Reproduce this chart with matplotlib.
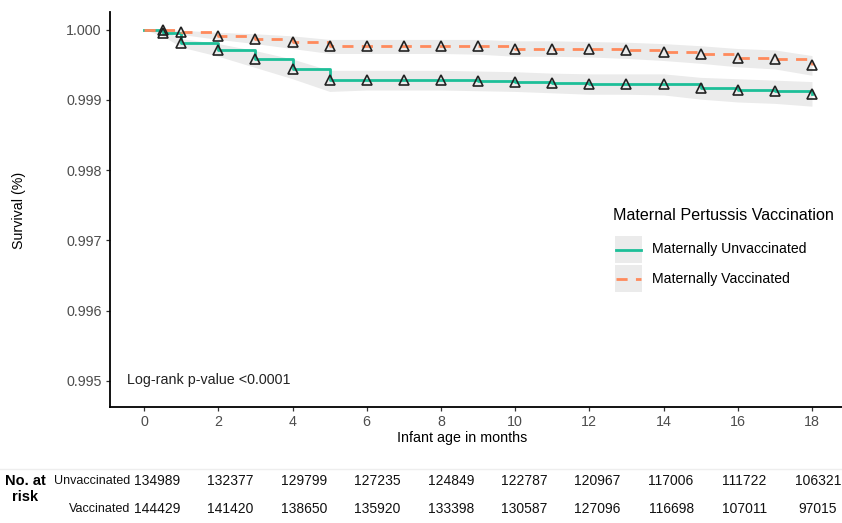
import matplotlib
matplotlib.use("Agg")
import matplotlib.pyplot as plt
from matplotlib.patches import Rectangle
from matplotlib.lines import Line2D

plt.rcParams['font.family'] = ['Liberation Sans', 'DejaVu Sans']

# ---- data ----
months = [0, 0.5, 1, 2, 3, 4, 5, 6, 7, 8, 9, 10, 11, 12, 13, 14, 15, 16, 17, 18]
surv_unvacc = [1.0, 0.99995, 0.99981, 0.99971, 0.99958, 0.99944, 0.99928, 0.99928, 0.99928, 0.99928,
               0.99927, 0.99926, 0.99924, 0.99923, 0.99923, 0.99923, 0.99917, 0.99914, 0.99912, 0.99909]
lo_unvacc = [1.0, 0.99991, 0.99975, 0.99962, 0.99946, 0.99930, 0.99912, 0.99914, 0.99914, 0.99914,
             0.99913, 0.99912, 0.99910, 0.99908, 0.99908, 0.99907, 0.99901, 0.99897, 0.99895, 0.99891]
hi_unvacc = [1.0, 0.99999, 0.99987, 0.99980, 0.99970, 0.99958, 0.99942, 0.99942, 0.99942, 0.99942,
             0.99941, 0.99940, 0.99938, 0.99937, 0.99937, 0.99937, 0.99932, 0.99930, 0.99928, 0.99926]
surv_vacc = [1.0, 1.0, 0.99996, 0.99991, 0.99987, 0.99982, 0.99976, 0.99976, 0.99976, 0.99976,
             0.99976, 0.99973, 0.99973, 0.99972, 0.99971, 0.99968, 0.99965, 0.99960, 0.99958, 0.99950]
lo_vacc = [1.0, 0.99998, 0.99993, 0.99986, 0.99980, 0.99973, 0.99966, 0.99966, 0.99966, 0.99966,
           0.99965, 0.99962, 0.99962, 0.99961, 0.99959, 0.99956, 0.99952, 0.99947, 0.99944, 0.99935]
hi_vacc = [1.0, 1.0, 0.99999, 0.99996, 0.99994, 0.99991, 0.99986, 0.99986, 0.99986, 0.99986,
           0.99986, 0.99984, 0.99984, 0.99983, 0.99982, 0.99980, 0.99977, 0.99973, 0.99971, 0.99963]
marker_months = months[1:]

risk_months = [0, 2, 4, 6, 8, 10, 12, 14, 16, 18]
risk_unvacc = [134989, 132377, 129799, 127235, 124849, 122787, 120967, 117006, 111722, 106321]
risk_vacc = [144429, 141420, 138650, 135920, 133398, 130587, 127096, 116698, 107011, 97015]

xticks = [0, 2, 4, 6, 8, 10, 12, 14, 16, 18]
yticks = [0.995, 0.996, 0.997, 0.998, 0.999, 1.000]

GREEN = '#1dbf98'
ORANGE = '#ff8a5c'
BAND = '#ebebeb'

W, H = 842, 523
fig = plt.figure(figsize=(W / 100, H / 100), dpi=100)

def fx(px):
    return px / W

def fy(py):
    return 1 - py / H

# main axes
left, right, top, bottom = 110, 842, 12, 407
ax = fig.add_axes([fx(left), fy(bottom), fx(right - left), (bottom - top) / H])
ax.set_xlim(-0.92, 18.81)
ax.set_ylim(0.99463, 1.00025)

ax.fill_between(months, lo_unvacc, hi_unvacc, color=BAND, lw=0, zorder=1)
ax.fill_between(months, lo_vacc, hi_vacc, color=BAND, lw=0, zorder=1)

ax.step(months, surv_unvacc, where='post', color=GREEN, lw=2.0, zorder=3)
ax.step(months, surv_vacc, where='post', color=ORANGE, lw=2.0, dashes=(4, 3), zorder=3)

ax.plot(marker_months, surv_unvacc[1:], ls='none', marker='^', ms=7.8, mfc='none',
        mec='#222222', mew=1.2, zorder=4)
ax.plot(marker_months, surv_vacc[1:], ls='none', marker='^', ms=7.8, mfc='none',
        mec='#222222', mew=1.2, zorder=4)

for s in ['top', 'right']:
    ax.spines[s].set_visible(False)
for s in ['left', 'bottom']:
    ax.spines[s].set_linewidth(1.3)
    ax.spines[s].set_color('black')

ax.set_xticks(xticks)
ax.set_xticklabels([str(v) for v in xticks])
ax.set_yticks(yticks)
ax.set_yticklabels([f"{v:.3f}" for v in yticks])
ax.tick_params(axis='both', length=3, width=0.9, color='#333333', labelcolor='#4d4d4d',
               labelsize=10.3, pad=3)

fig.text(fx(462), fy(438), 'Infant age in months', fontsize=10.3, color='black',
         ha='center', va='center')
fig.text(fx(19), fy(210), 'Survival (%)', fontsize=10.3, color='black',
         ha='center', va='center', rotation=90)

fig.text(fx(127), fy(380), 'Log-rank p-value <0.0001', fontsize=10.3,
         color='#222222', ha='left', va='center')

# legend (manual, ggplot-like)
fig.text(fx(613), fy(216), 'Maternal Pertussis Vaccination', fontsize=11.6, ha='left', va='center')
for i, (col, dash, lab) in enumerate([(GREEN, None, 'Maternally Unvaccinated'),
                                      (ORANGE, (4, 3), 'Maternally Vaccinated')]):
    y0 = 236 + i * 29
    fig.patches.append(Rectangle((fx(615), fy(y0 + 27)), fx(27), 27 / H, transform=fig.transFigure,
                                 facecolor=BAND, edgecolor='none'))
    ln = Line2D([fx(616), fx(641)], [fy(y0 + 13.5)] * 2, transform=fig.transFigure, color=col, lw=2.0)
    if dash:
        ln.set_dashes(dash)
    fig.lines.append(ln)
    fig.text(fx(652), fy(y0 + 13.5), lab, fontsize=10.1, ha='left', va='center')

# separator line above risk table
fig.lines.append(Line2D([0, 1], [fy(469)] * 2, transform=fig.transFigure, color='#eeeeee', lw=1))

# risk table
tleft = 157 - 0.9 * 36.72
tax = fig.add_axes([fx(tleft), fy(520), fx(19.8 * 36.72), 55 / H])
tax.set_xlim(-0.9, 18.9)
tax.set_ylim(0, 1)
tax.axis('off')
for m, a, b in zip(risk_months, risk_unvacc, risk_vacc):
    tax.text(m, (520 - 481) / 55, str(a), ha='center', va='center', fontsize=10, color='#111111', clip_on=False)
    tax.text(m, (520 - 509) / 55, str(b), ha='center', va='center', fontsize=10, color='#111111', clip_on=False)

fig.text(fx(130), fy(481), 'Unvaccinated', ha='right', va='center', fontsize=9, color='#111111')
fig.text(fx(130), fy(509), 'Vaccinated', ha='right', va='center', fontsize=9, color='#111111')
fig.text(fx(25), fy(481), 'No. at', ha='center', va='center', fontsize=10.5, fontweight='bold')
fig.text(fx(25), fy(497), 'risk', ha='center', va='center', fontsize=10.5, fontweight='bold')

fig.savefig('out.png', dpi=100)
